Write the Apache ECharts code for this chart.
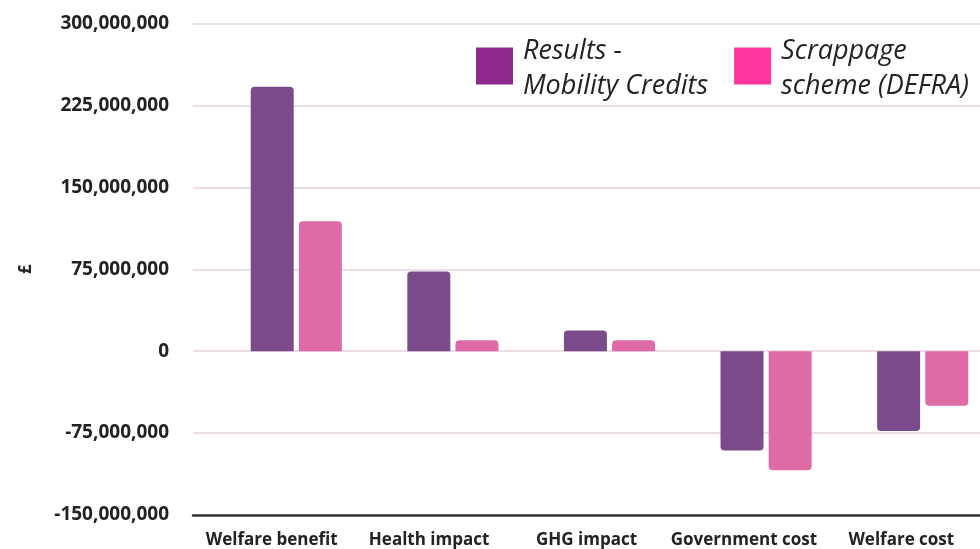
<!DOCTYPE html>
<html>
<head>
<meta charset="utf-8">
<script src="https://cdn.jsdelivr.net/npm/echarts@6/dist/echarts.min.js"></script>
<style>html,body{margin:0;padding:0;background:#fff}#c{width:980px;height:549px}</style>
</head>
<body>
<div id="c"></div>
<script>
const categories = ['Welfare benefit', 'Health impact', 'GHG impact', 'Government cost', 'Welfare cost'];
const mobilityCredits = [242000000, 73000000, 19000000, -91000000, -73000000];
const scrappageDefra = [119000000, 10000000, 10000000, -109000000, -50000000];
const seriesNames = ['Results - Mobility Credits', 'Scrappage scheme (DEFRA)'];
const legendLines = { 'Results - Mobility Credits': 'Results -\nMobility Credits', 'Scrappage scheme (DEFRA)': 'Scrappage\nscheme (DEFRA)' };
const yMin = -150000000, yMax = 300000000, yStep = 75000000;

const barColors = ['#7a4a8b', '#de6ba6'];
const legendColors = ['#8e2a8d', '#ff35a0'];
// square swatch sitting slightly above the centre of its slot
const legendIcon = 'path://M0 0L37 0L37 37L0 37Z M0 43L0.01 43Z';

function toItems(arr) {
  return arr.map(v => ({ value: v, itemStyle: { borderRadius: v >= 0 ? [4, 4, 0, 0] : [0, 0, 4, 4] } }));
}

const chart = echarts.init(document.getElementById('c'), null, { renderer: 'canvas' });
chart.setOption({
  backgroundColor: '#ffffff',
  animation: false,
  textStyle: { fontFamily: 'Open Sans' },
  legend: {
    left: 476, top: 34, padding: 0,
    itemWidth: 37, itemHeight: 43, itemGap: 26,
    data: seriesNames.map((n, i) => ({ name: n, icon: legendIcon, itemStyle: { color: legendColors[i], borderWidth: 0 } })),
    formatter: n => legendLines[n],
    textStyle: { fontFamily: 'Open Sans', fontStyle: 'italic', fontSize: 27, lineHeight: 35, color: '#222', padding: [0, 0, 0, 5] }
  },
  grid: [
    { left: 193, right: 0, top: 23.5, bottom: 34, outerBoundsMode: 'none' },
    { left: 218, right: -21, top: 23.5, bottom: 34, outerBoundsMode: 'none' }
  ],
  xAxis: [
    {
      type: 'category', gridIndex: 0, data: categories,
      axisLine: { show: true, onZero: false, lineStyle: { color: '#333', width: 2.5 } },
      axisTick: { show: false },
      axisLabel: { fontFamily: 'Open Sans', fontWeight: 'bold', fontSize: 17, color: '#222', margin: 17, interval: 0 },
      splitLine: { show: false }
    },
    {
      type: 'category', gridIndex: 1, data: categories,
      axisLine: { show: false, onZero: false }, axisTick: { show: false }, axisLabel: { show: false }, splitLine: { show: false }
    }
  ],
  yAxis: [
    {
      type: 'value', gridIndex: 0, min: yMin, max: yMax, interval: yStep,
      name: '£', nameLocation: 'middle', nameRotate: 90, nameGap: 158,
      nameTextStyle: { fontFamily: 'Open Sans', fontWeight: 'bold', fontSize: 17, color: '#222' },
      axisLine: { show: false }, axisTick: { show: false },
      axisLabel: { fontFamily: 'Open Sans', fontWeight: 'bold', fontSize: 19, color: '#222', margin: 24,
        formatter: v => Number(v).toLocaleString('en-US') },
      splitLine: { show: true, lineStyle: { color: '#e6d2df', width: 1.5 } }
    },
    {
      type: 'value', gridIndex: 1, min: yMin, max: yMax, interval: yStep,
      axisLine: { show: false }, axisTick: { show: false }, axisLabel: { show: false }, splitLine: { show: false }
    }
  ],
  series: [
    { name: seriesNames[0], type: 'bar', xAxisIndex: 1, yAxisIndex: 1, data: toItems(mobilityCredits),
      barWidth: 43, barGap: '12%', itemStyle: { color: barColors[0] } },
    { name: seriesNames[1], type: 'bar', xAxisIndex: 1, yAxisIndex: 1, data: toItems(scrappageDefra),
      barWidth: 43, barGap: '12%', itemStyle: { color: barColors[1] } }
  ]
});
</script>
</body>
</html>
